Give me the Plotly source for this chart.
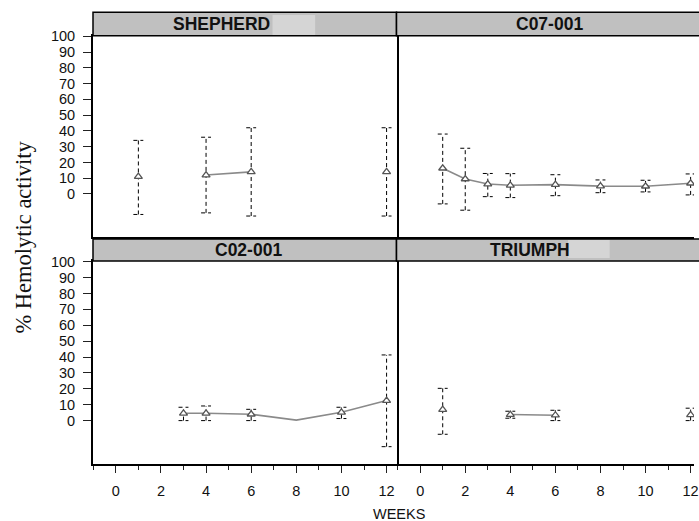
import plotly.graph_objects as go

# ---------------- data ----------------
panel_titles = ["SHEPHERD", "C07-001", "C02-001", "TRIUMPH"]
y_tick_values = [0, 10, 20, 30, 40, 50, 60, 70, 80, 90, 100]
x_tick_values = [0, 2, 4, 6, 8, 10, 12]

shepherd_weeks = [1, 4, 6, 12]
shepherd_mean = [11, 12, 14, 14]
shepherd_upper = [34, 36, 42, 42]
shepherd_lower = [-13, -12, -14, -14]
shepherd_line_weeks = [1, 4, 6, 12]
shepherd_line_values = [None, 12, 14, None]

c07_weeks = [1, 2, 3, 4, 6, 8, 10, 12]
c07_mean = [16.3, 9.5, 6.3, 5.5, 5.9, 5.0, 4.9, 6.8]
c07_upper = [38, 29, 13, 12.9, 12.2, 8.9, 8.7, 12.7]
c07_lower = [-6.3, -10.3, -1.7, -2.3, -1.1, 0.8, 1.3, -0.6]
c07_line_weeks = [1, 2, 3, 4, 6, 8, 10, 12]
c07_line_values = [16.3, 9.5, 6.3, 5.5, 5.9, 5.0, 4.9, 6.8]

c02_weeks = [3, 4, 6, 10, 12]
c02_mean = [4.6, 4.6, 4.0, 5.2, 12.6]
c02_upper = [8.4, 9.2, 7.1, 8.4, 41.3]
c02_lower = [0, 0, 0, 1.3, -16.4]
c02_line_weeks = [3, 4, 6, 8, 10, 12]
c02_line_values = [4.6, 4.6, 4.0, 0.3, 5.2, 12.6]

triumph_weeks = [1, 4, 6, 12]
triumph_mean = [6.9, 3.8, 3.4, 3.6]
triumph_upper = [20.3, 5.9, 6.5, 7.8]
triumph_lower = [-8.6, 1.5, 0, 0]
triumph_line_weeks = [1, 4, 6, 12]
triumph_line_values = [None, 3.8, 3.4, None]

# ---------------- figure ----------------
W, H = 699, 521
ML, MR, MT, MB = 93, 0, 12, 57
PW = W - ML - MR
PH = H - MT - MB


def px_x(p):
    return (p - ML) / PW


def px_y(p):
    return (H - MB - p) / PH


fig = go.Figure()

panels = [
    ("x3", "y3", shepherd_weeks, shepherd_mean, shepherd_upper, shepherd_lower,
     shepherd_line_weeks, shepherd_line_values),
    ("x4", "y4", c07_weeks, c07_mean, c07_upper, c07_lower,
     c07_line_weeks, c07_line_values),
    ("x", "y", c02_weeks, c02_mean, c02_upper, c02_lower,
     c02_line_weeks, c02_line_values),
    ("x2", "y2", triumph_weeks, triumph_mean, triumph_upper, triumph_lower,
     triumph_line_weeks, triumph_line_values),
]

CAP = 0.22
for xa, ya, wk, mn, up, lo, lw, lv in panels:
    ex, ey = [], []
    for w, u, l in zip(wk, up, lo):
        ex += [w, w, None, w - CAP, w + CAP, None, w - CAP, w + CAP, None]
        ey += [l, u, None, u, u, None, l, l, None]
    fig.add_trace(go.Scatter(x=ex, y=ey, mode="lines", xaxis=xa, yaxis=ya,
                             line=dict(color="black", width=1, dash="4px,3px"),
                             hoverinfo="skip", showlegend=False))
    fig.add_trace(go.Scatter(x=lw, y=lv, mode="lines", xaxis=xa, yaxis=ya,
                             connectgaps=False,
                             line=dict(color="#8a8a8a", width=1.6),
                             showlegend=False))
    fig.add_trace(go.Scatter(x=wk, y=mn, mode="markers", xaxis=xa, yaxis=ya,
                             marker=dict(symbol="triangle-up", size=7, color="white",
                                         line=dict(color="#555555", width=1.3)),
                             showlegend=False))

tick_font = dict(family="Liberation Sans, Arial", size=14.5, color="#111111")
left_dom = [0, 0.505]
right_dom = [0.505, 1.0]
bot_dom = [0, px_y(261)]
top_dom = [px_y(237), px_y(35.7)]
xr_left = [-1.01, 12.44]
xr_right = [-1.05, 12.15]
yr = [-27.3, 100.4]

common_x = dict(showgrid=False, zeroline=False, showline=True, linecolor="black",
                linewidth=2)
common_y = dict(showgrid=False, zeroline=False, linecolor="black",
                linewidth=2, range=yr)

fig.update_layout(
    width=W, height=H,
    margin=dict(l=ML, r=MR, t=MT, b=MB),
    paper_bgcolor="white", plot_bgcolor="white",
    xaxis=dict(domain=left_dom, range=xr_left, anchor="y", mirror=True,
               tickvals=x_tick_values, ticks="outside", ticklen=7, tickwidth=1.2,
               tickcolor="#222", tickfont=tick_font, ticklabelstandoff=6,
               minor=dict(dtick=1, tick0=0, ticks="outside", ticklen=4,
                          tickcolor="#222", tickwidth=1.2), **common_x),
    xaxis2=dict(domain=right_dom, range=xr_right, anchor="y2", mirror=False,
                tickvals=x_tick_values, ticks="outside", ticklen=7, tickwidth=1.2,
                tickcolor="#222", tickfont=tick_font, ticklabelstandoff=6,
                ticklabeloverflow="allow",
                minor=dict(dtick=1, tick0=0, ticks="outside", ticklen=4,
                           tickcolor="#222", tickwidth=1.2), **common_x),
    xaxis3=dict(domain=left_dom, range=xr_left, anchor="y3", mirror=True,
                showticklabels=False, ticks="", **common_x),
    xaxis4=dict(domain=right_dom, range=xr_right, anchor="y4", mirror=False,
                showticklabels=False, ticks="", **common_x),
    yaxis=dict(domain=bot_dom, anchor="x", mirror=True, showline=True,
               tickvals=y_tick_values,
               ticks="outside", ticklen=8, tickwidth=1.2, tickcolor="#222",
               tickfont=tick_font, ticklabelstandoff=5, **common_y),
    yaxis2=dict(domain=bot_dom, anchor="x2", showline=False, showticklabels=False,
                ticks="", **common_y),
    yaxis3=dict(domain=top_dom, anchor="x3", mirror=True, showline=True,
                tickvals=y_tick_values,
                ticks="outside", ticklen=8, tickwidth=1.2, tickcolor="#222",
                tickfont=tick_font, ticklabelstandoff=5, **common_y),
    yaxis4=dict(domain=top_dom, anchor="x4", showline=False, showticklabels=False,
                ticks="", **common_y),
)

# strips
strip_boxes = [
    (0, 0.505, px_y(35.7), px_y(12.3)),
    (0.505, 1.02, px_y(35.7), px_y(12.3)),
    (0, 0.505, px_y(261), px_y(239)),
    (0.505, 1.02, px_y(261), px_y(239)),
]
for x0, x1, y0, y1 in strip_boxes:
    fig.add_shape(type="rect", xref="paper", yref="paper", x0=x0, x1=x1, y0=y0, y1=y1,
                  fillcolor="#c0c0c0", line=dict(color="black", width=1.5), layer="above")

# light redaction boxes
fig.add_shape(type="rect", xref="paper", yref="paper", x0=px_x(274), x1=px_x(317),
              y0=px_y(35), y1=px_y(15), fillcolor="#d5d5d5", line=dict(width=0), layer="above")
fig.add_shape(type="rect", xref="paper", yref="paper", x0=px_x(572), x1=px_x(614),
              y0=px_y(258), y1=px_y(240), fillcolor="#d5d5d5", line=dict(width=0), layer="above")

strip_font = dict(family="Liberation Sans, Arial", size=17.5, color="#111111")
title_pos = [
    (px_x(172), px_y(24), "left"),
    (px_x(553), px_y(24), "center"),
    (px_x(250), px_y(250), "center"),
    (px_x(491), px_y(250), "left"),
]
for (xp, yp, anc), t in zip(title_pos, panel_titles):
    fig.add_annotation(x=xp, y=yp, xref="paper", yref="paper", text="<b>%s</b>" % t,
                       showarrow=False, xanchor=anc, yanchor="middle", font=strip_font)

fig.add_annotation(x=px_x(22), y=px_y(237), xref="paper", yref="paper",
                   text="% Hemolytic activity", textangle=-90, showarrow=False,
                   xanchor="center", yanchor="middle",
                   font=dict(family="Liberation Serif, Times New Roman", size=22.5,
                             color="#111111"))
fig.add_annotation(x=px_x(402), y=px_y(514), xref="paper", yref="paper",
                   text="WEEKS", showarrow=False, xanchor="center", yanchor="middle",
                   font=dict(family="Liberation Sans, Arial", size=14.5, color="#111111"))

fig.write_html("out.html",
               config={"displayModeBar": False},
               post_script="document.body.style.margin='0';"
                           "document.body.style.overflow='hidden';")
